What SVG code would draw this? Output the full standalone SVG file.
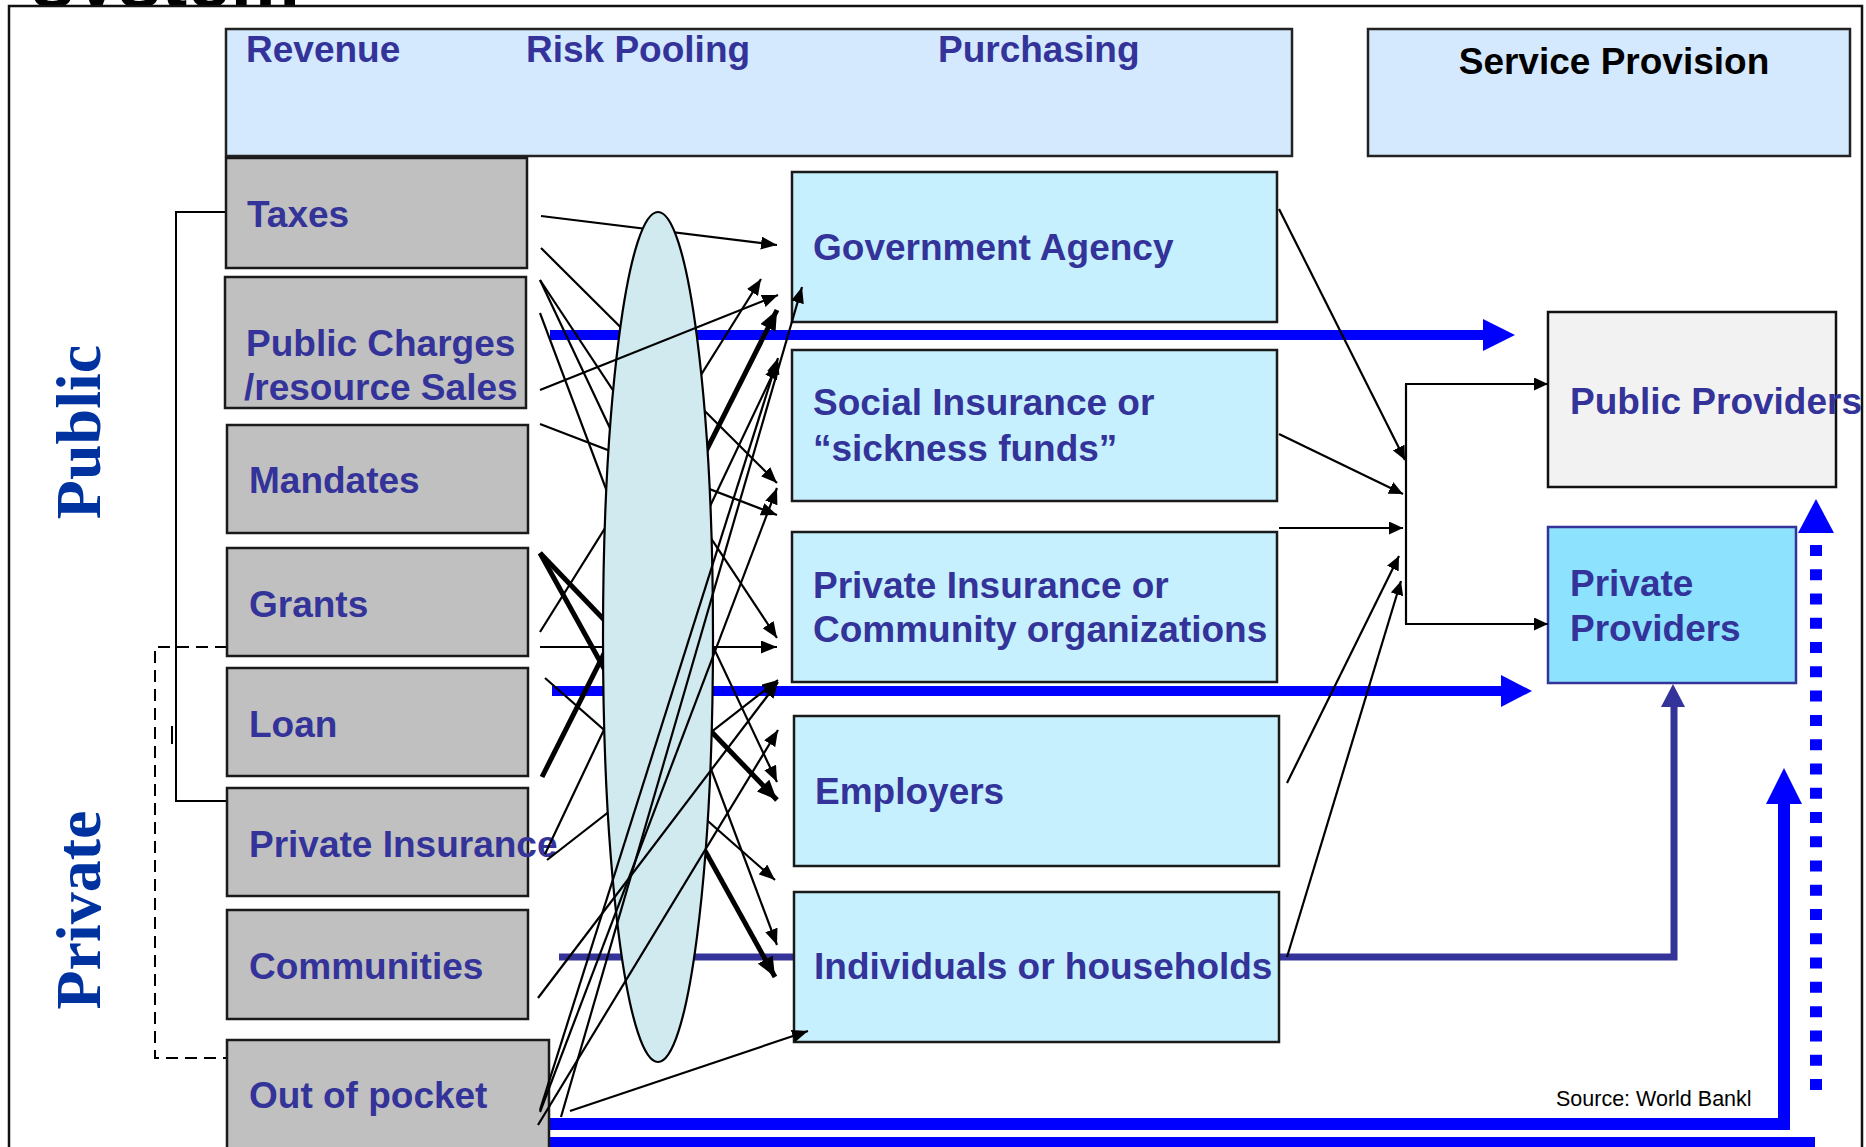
<svg xmlns="http://www.w3.org/2000/svg" width="1866" height="1147" viewBox="0 0 1866 1147">
  <style>
    .lbl { font-family: "Liberation Sans", Arial, sans-serif; font-weight: bold; font-size: 37px; fill: #333399; }
    .side { font-family: "Liberation Serif", "Times New Roman", serif; font-weight: bold; font-size: 64px; fill: #0033A0; }
    .hdr { fill: #D4E9FD; stroke: #222; stroke-width: 2.5; }
    .rev { fill: #C0C0C0; stroke: #1a1a1a; stroke-width: 2.5; }
    .pur { fill: #C6F0FE; stroke: #1a1a1a; stroke-width: 2.5; }
    .ln { stroke: #000; stroke-width: 2.2; fill: none; marker-end: url(#ah); }
    .thk { stroke: #000; stroke-width: 5; fill: none; marker-end: url(#ahk); }
    .bus { stroke: #000; stroke-width: 2.2; fill: none; }
    .busa { stroke: #000; stroke-width: 2.2; fill: none; marker-end: url(#ahs); }
    .blue { stroke: #0000FF; fill: none; }
  </style>
  <defs>
    <marker id="ah" markerUnits="userSpaceOnUse" markerWidth="17" markerHeight="13" refX="16" refY="6.5" orient="auto">
      <path d="M0,0 L16,6.5 L0,13 z" fill="#000"/>
    </marker>
    <marker id="ahk" markerUnits="userSpaceOnUse" markerWidth="21" markerHeight="17" refX="20" refY="8.5" orient="auto">
      <path d="M0,0 L20,8.5 L0,17 z" fill="#000"/>
    </marker>
    <marker id="ahs" markerUnits="userSpaceOnUse" markerWidth="15" markerHeight="13" refX="14" refY="6.5" orient="auto">
      <path d="M0,0 L14,6.5 L0,13 z" fill="#000"/>
    </marker>
  </defs>

  <!-- title line, lower part hidden under the frame -->
  <text x="31" y="7" font-family="Liberation Sans, Arial, sans-serif" font-weight="bold" font-size="78" fill="#000">system</text>

  <!-- outer frame -->
  <rect x="9" y="6" width="1853" height="1150" fill="#fff" stroke="#111" stroke-width="2.5"/>

  <!-- column headers -->
  <g id="header-functions">
    <rect class="hdr" x="226" y="29" width="1066" height="127"/>
    <text class="lbl" x="246" y="62">Revenue</text>
    <text class="lbl" x="526" y="62">Risk Pooling</text>
    <text class="lbl" x="938" y="62">Purchasing</text>
  </g>
  <g id="header-service">
    <rect class="hdr" x="1368" y="29" width="482" height="127"/>
    <text x="1614" y="74" text-anchor="middle" font-family="Liberation Sans, Arial, sans-serif" font-weight="bold" font-size="37" fill="#000">Service Provision</text>
  </g>

  <!-- public / private side labels -->
  <g id="label-public">
    <text class="side" transform="translate(100,432) rotate(-90)" text-anchor="middle">Public</text>
  </g>
  <g id="label-private">
    <text class="side" transform="translate(100,910) rotate(-90)" text-anchor="middle">Private</text>
  </g>

  <!-- brackets grouping the revenue sources -->
  <g id="brackets" fill="none" stroke="#000" stroke-width="2">
    <path d="M226,212 H176 V801 H227"/>
    <path d="M227,647 H155 V1058 H227" stroke-dasharray="12 7"/>
    <path d="M172,726 V744"/>
  </g>

  <!-- flow bands -->
  <g id="flow-bands">
    <path class="blue" d="M550,335 H1485" stroke-width="10"/>
    <polygon points="1483,319 1515,335 1483,351" fill="#0000FF"/>
    <path class="blue" d="M552,691 H1503" stroke-width="10"/>
    <polygon points="1501,675 1532,691 1501,707" fill="#0000FF"/>
    <path d="M559,957 H1674 V705" fill="none" stroke="#333399" stroke-width="7"/>
    <polygon points="1661,707 1673,684 1685,707" fill="#333399"/>
    <path class="blue" d="M550,1124 H1784 V800" stroke-width="12"/>
    <polygon points="1766,804 1784,768 1802,804" fill="#0000FF"/>
    <rect x="548" y="1137" width="1267" height="14" fill="#0000FF"/>
    <path class="blue" d="M1816,545 V1090" stroke-width="12" stroke-dasharray="11 13.27"/>
    <polygon points="1798,533 1816,499 1834,533" fill="#0000FF"/>
  </g>

  <!-- revenue sources -->
  <g id="taxes">
    <rect class="rev" x="226" y="158" width="301" height="110"/>
    <text class="lbl" x="247" y="227">Taxes</text>
  </g>
  <g id="public-charges">
    <rect class="rev" x="225" y="277" width="301" height="131"/>
    <text class="lbl" x="246" y="356">Public Charges</text>
    <text class="lbl" x="244" y="400">/resource Sales</text>
  </g>
  <g id="mandates">
    <rect class="rev" x="227" y="425" width="301" height="108"/>
    <text class="lbl" x="249" y="493">Mandates</text>
  </g>
  <g id="grants">
    <rect class="rev" x="227" y="548" width="301" height="108"/>
    <text class="lbl" x="249" y="617">Grants</text>
  </g>
  <g id="loan">
    <rect class="rev" x="227" y="668" width="301" height="108"/>
    <text class="lbl" x="249" y="737">Loan</text>
  </g>
  <g id="private-insurance">
    <rect class="rev" x="227" y="788" width="301" height="108"/>
    <text class="lbl" x="249" y="857">Private Insurance</text>
  </g>
  <g id="communities">
    <rect class="rev" x="227" y="910" width="301" height="109"/>
    <text class="lbl" x="249" y="979">Communities</text>
  </g>
  <g id="out-of-pocket">
    <rect class="rev" x="227" y="1040" width="322" height="120"/>
    <text class="lbl" x="249" y="1108">Out of pocket</text>
  </g>

  <!-- purchasing agents -->
  <g id="government-agency">
    <rect class="pur" x="792" y="172" width="485" height="150"/>
    <text class="lbl" x="813" y="260">Government Agency</text>
  </g>
  <g id="social-insurance">
    <rect class="pur" x="792" y="350" width="485" height="151"/>
    <text class="lbl" x="813" y="415">Social Insurance or</text>
    <text class="lbl" x="813" y="461">“sickness funds”</text>
  </g>
  <g id="private-insurance-community">
    <rect class="pur" x="792" y="532" width="485" height="150"/>
    <text class="lbl" x="813" y="598">Private Insurance or</text>
    <text class="lbl" x="813" y="642">Community organizations</text>
  </g>
  <g id="employers">
    <rect class="pur" x="794" y="716" width="485" height="150"/>
    <text class="lbl" x="815" y="804">Employers</text>
  </g>
  <g id="individuals">
    <rect class="pur" x="794" y="892" width="485" height="150"/>
    <text class="lbl" x="814" y="979">Individuals or households</text>
  </g>

  <!-- providers -->
  <g id="public-providers">
    <rect x="1548" y="312" width="288" height="175" fill="#F2F2F2" stroke="#111" stroke-width="2.5"/>
    <text class="lbl" x="1570" y="414">Public Providers</text>
  </g>
  <g id="private-providers">
    <rect x="1548" y="527" width="248" height="156" fill="#8DE3FE" stroke="#333399" stroke-width="2.5"/>
    <text class="lbl" x="1570" y="596">Private</text>
    <text class="lbl" x="1570" y="641">Providers</text>
  </g>

  <!-- connectors -->
  <g id="connectors">
    <!-- flows passing behind the pooling ellipse -->
    <g id="flows-behind-pool">
      <path class="ln" d="M541,216 L777,245"/>
      <path class="ln" d="M541,248 L777,483"/>
      <path class="ln" d="M540,280 L777,638"/>
      <path class="ln" d="M540,280 L777,782"/>
      <path class="ln" d="M540,313 L777,945"/>
      <path class="ln" d="M540,424 L777,515"/>
      <path class="ln" d="M540,632 L761,279"/>
      <path class="ln" d="M540,647 L777,647"/>
      <path class="thk" d="M540,553 L777,800"/>
      <path class="thk" d="M540,553 L775,977"/>
      <path class="thk" d="M542,777 L777,310"/>
      <path class="ln" d="M545,678 L775,880"/>
      <path class="ln" d="M545,854 L778,363"/>
      <path class="ln" d="M547,860 L778,680"/>
    </g>

    <!-- risk pooling ellipse -->
    <ellipse id="risk-pool" cx="658" cy="637" rx="55" ry="425" fill="#D0EAF0" stroke="#000" stroke-width="2.2"/>

    <!-- flows crossing over the pool -->
    <g id="flows-over-pool">
      <path class="ln" d="M540,390 L778,295"/>
      <path class="ln" d="M561,1117 L802,287"/>
      <path class="ln" d="M540,1112 L777,488"/>
      <path class="ln" d="M540,1110 L778,358"/>
      <path class="ln" d="M538,1125 L778,730"/>
      <path class="ln" d="M538,998 L778,682"/>
      <path class="ln" d="M570,1111 L808,1031"/>
    </g>

    <!-- purchasers to providers -->
    <g id="flows-to-providers">
      <path class="busa" d="M1279,209 L1405,460"/>
      <path class="busa" d="M1279,434 L1403,494"/>
      <path class="busa" d="M1279,528 L1403,528"/>
      <path class="busa" d="M1287,783 L1399,556"/>
      <path class="busa" d="M1287,957 L1401,581"/>
      <path class="bus" d="M1406,624 V384"/>
      <path class="busa" d="M1405,384 H1548"/>
      <path class="busa" d="M1405,624 H1548"/>
    </g>
  </g>

  <text x="1556" y="1106" font-family="Liberation Sans, Arial, sans-serif" font-size="21.5" fill="#000">Source: World Bankl</text>
</svg>
